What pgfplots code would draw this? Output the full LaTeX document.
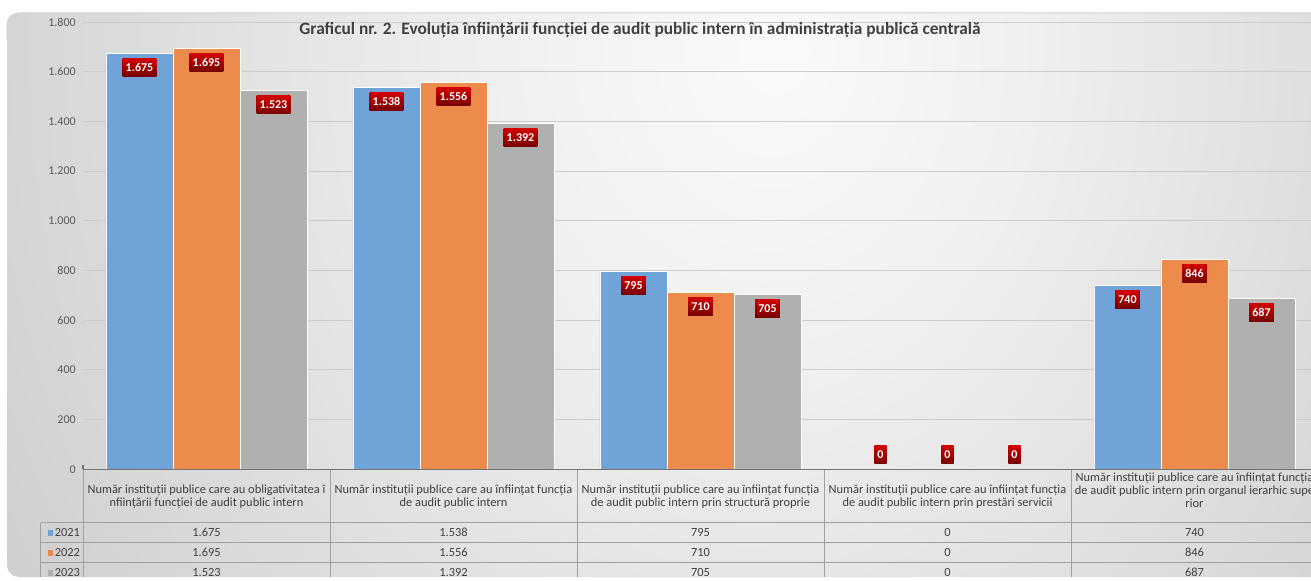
\documentclass[border=0pt]{standalone}
\usepackage{pgfplots}
\pgfplotsset{compat=1.18}
\usepackage{fontspec}
\setmainfont{Carlito}
\definecolor{cBlue}{RGB}{112,163,215}
\definecolor{cOrange}{RGB}{237,139,77}
\definecolor{cGray}{RGB}{176,176,176}
\definecolor{lblTop}{RGB}{210,0,0}
\definecolor{lblBot}{RGB}{120,0,0}
\definecolor{tickc}{RGB}{89,89,89}
\definecolor{textc}{RGB}{64,64,64}
\definecolor{gridc}{RGB}{204,204,204}
\definecolor{linec}{RGB}{160,160,160}
\pgfdeclareradialshading{bgshade}{\pgfpoint{4.3bp}{0bp}}{%
  color(0bp)=(black!2); color(10bp)=(black!6); color(22bp)=(black!13);
  color(34bp)=(black!20); color(46bp)=(black!26); color(56bp)=(black!29); color(75bp)=(black!30)}
\begin{document}
\begin{tikzpicture}
\begin{scope}[x=0.75pt,y=-0.75pt]
  \fill[white] (0,0) rectangle (1311,581);
  \begin{scope}
    \clip[rounded corners=9pt] (7,13) rectangle (1340,577);
    \shade[shading=bgshade] (7,-750) rectangle (1320,850);
  \end{scope}
  \draw[black!18, line width=0.75pt, rounded corners=9pt] (7,40) -- (7,13) -- (1311,13);
\end{scope}

\begin{axis}[
  at={(62.25pt,-351.975pt)}, anchor=south west,
  scale only axis, width=921pt, height=335.475pt,
  xmin=-0.5, xmax=4.4717, ymin=0, ymax=1800,
  ybar=0pt, bar width=50.25pt,
  axis line style={draw=none},
  major tick length=0pt,
  ytick={0,200,...,1800},
  ymajorgrids, grid style={draw=gridc, line width=0.75pt},
  yticklabel style={anchor=east, inner sep=0pt, xshift=-5.25pt, text=tickc, font=\fontsize{9}{10}\selectfont},
  xtick={0,1,2,3,4},
  xticklabels={
    {Număr instituții publice care au obligativitatea î\\nființării funcției de audit public intern},
    {Număr instituții publice care au înființat funcția\\de audit public intern},
    {Număr instituții publice care au înființat funcția\\de audit public intern prin structură proprie},
    {Număr instituții publice care au înființat funcția\\de audit public intern prin prestări servicii},
    {Număr instituții publice care au înființat funcția\\de audit public intern prin organul ierarhic supe\\rior}},
  xticklabel style={anchor=center, align=center, inner sep=0pt, text=textc,
    font=\fontsize{9.3}{9.75}\selectfont,
    yshift={\ticknum==4 ? -15.8 : -20.6}},
  /pgf/number format/.cd, 1000 sep={.}, assume math mode=true,
  /pgfplots/.cd,
  visualization depends on={rawy \as \rawy},
  nodes near coords,
  every node near coord/.append style={anchor=center, text=white,
    font=\bfseries\fontsize{9}{10}\selectfont,
    top color=lblTop, bottom color=lblBot,
    inner xsep=2.4pt, inner ysep=0pt, minimum height=13.5pt,
    yshift={\rawy>0 ? -10.5 : 11.25}},
  clip=false,
]
\addplot[fill=cBlue, draw=white, line width=0.6pt] coordinates {(0,1675) (1,1538) (2,795) (3,0) (4,740)};
\addplot[fill=cOrange, draw=white, line width=0.6pt] coordinates {(0,1695) (1,1556) (2,710) (3,0) (4,846)};
\addplot[fill=cGray, draw=white, line width=0.6pt] coordinates {(0,1523) (1,1392) (2,705) (3,0) (4,687)};
\end{axis}

\begin{scope}[x=0.75pt,y=-0.75pt]
  % table grid
  \foreach \xx in {83,330,577,824,1071} {\draw[linec, line width=0.75pt] (\xx,469.3) -- (\xx,577);}
  \draw[linec, line width=0.75pt] (40.7,522.7) -- (40.7,577);
  \foreach \yy in {522.7,542.7,562.7} {\draw[linec, line width=0.75pt] (40.7,\yy) -- (1311,\yy);}
  \draw[black!55, line width=0.9pt] (83,469.3) -- (1311,469.3);
  \draw[black!55, line width=0.9pt] (83,469.3) -- (83,465);
  % legend column
  \foreach \yy/\cc/\lab in {532.7/cBlue/2021, 552.7/cOrange/2022, 572.7/cGray/2023} {
    \fill[\cc] (47.7,\yy-2.8) rectangle (53.3,\yy+2.8);
    \node[anchor=west, inner sep=0pt, text=textc, font=\fontsize{9.3}{10}\selectfont] at (54.5,\yy) {\lab};
  }
  % values
  \foreach \yy/\a/\b/\c/\d/\e in {532.7/1.675/1.538/795/0/740, 552.7/1.695/1.556/710/0/846, 572.7/1.523/1.392/705/0/687} {
    \foreach \xx/\v in {206.5/\a, 453.5/\b, 700.5/\c, 947.5/\d, 1194.5/\e} {
      \node[inner sep=0pt, text=textc, font=\fontsize{9.3}{10}\selectfont] at (\xx,\yy) {\v};
    }
  }
  % title
  \node[text=textc, font=\bfseries\fontsize{13}{15}\selectfont] at (640,29.5)
    {Graficul nr. 2. Evoluția înființării funcției de audit public intern în administrația publică centrală};
  % fix the page to the reference frame
  \pgfresetboundingbox
  \path[use as bounding box] (0,0) rectangle (1311,581);
\end{scope}
\end{tikzpicture}
\end{document}
